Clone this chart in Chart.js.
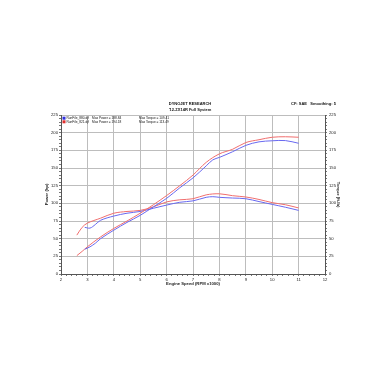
<!DOCTYPE html>
<html>
<head>
<meta charset="utf-8">
<script src="https://cdn.jsdelivr.net/npm/chart.js@4.4.1/dist/chart.umd.min.js"></script>
<style>
  html, body { margin: 0; padding: 0; background: #fff; }
  #wrap { width: 386px; height: 386px; }
</style>
</head>
<body>
<div id="wrap"><canvas id="dynoChart" width="386" height="386"></canvas></div>
<script>
// run 821 (red)
const redRpm = [2.6, 2.8, 3.0, 3.5, 4.0, 4.5, 5.0, 5.5, 6.0, 6.5, 7.0, 7.5, 8.0, 8.5, 9.0, 9.5, 10.0, 10.5, 11.0];
const redPower = [26, 32, 38.5, 52.5, 64.5, 75, 86, 98, 111, 125, 140, 158, 170, 176.5, 186, 190, 193.5, 194.2, 193.5];
const redTorque = [55, 66, 72, 79, 86, 88.5, 90, 95, 102, 105, 106.5, 112, 113.5, 110.8, 109, 105.5, 101, 98, 93.5];

// run 880 (blue)
const blueRpm = [2.9, 3.1, 3.3, 3.5, 4.0, 4.5, 5.0, 5.5, 6.0, 6.5, 7.0, 7.5, 7.75, 8.0, 8.5, 9.0, 9.5, 10.0, 10.5, 11.0];
const bluePower = [35, 38.5, 43.5, 50, 62, 73, 83, 95, 107, 122, 136, 153, 161.5, 165, 173, 182, 187, 188.5, 188.8, 185];
const blueTorque = [66, 65, 70, 76, 82, 86, 88.5, 93, 97.5, 101.5, 103.5, 108.5, 109.4, 108.5, 107.5, 106.5, 102.5, 98.5, 94.5, 90];

const legendRows = [
  { color: '#3030e0', file: 'RunFile_880.djf', power: 'Max Power = 188.84', torque: 'Max Torque = 109.41' },
  { color: '#e03030', file: 'RunFile_821.djf', power: 'Max Power = 194.18', torque: 'Max Torque = 113.49' }
];

const RED = 'rgb(240,110,110)';
const BLUE = 'rgb(105,105,240)';
const FONT = "'Liberation Sans', Arial, sans-serif";

function pts(xs, ys) {
  return xs.map((x, i) => ({ x: x, y: ys[i] }));
}
function isWhole(v, step) {
  const r = v / step;
  return Math.abs(r - Math.round(r)) < 1e-6;
}

Chart.defaults.font.family = FONT;
Chart.defaults.font.size = 4.2;
Chart.defaults.color = '#222';

const headerPlugin = {
  id: 'header',
  afterDraw(chart) {
    const c = chart.ctx;
    const a = chart.chartArea;
    c.save();
    c.fillStyle = '#111';
    c.textBaseline = 'middle';
    c.textAlign = 'center';
    c.font = 'bold 4px ' + FONT;
    c.fillText('DYNOJET RESEARCH', 190, 104);
    c.fillText("'12-ZX14R Full System", 190, 110);
    c.textAlign = 'left';
    c.fillText('CF: SAE   Smoothing: 5', 291, 104);

    // legend inside plot
    c.font = '3.2px ' + FONT;
    legendRows.forEach((row, i) => {
      const y = a.top + 3.2 + i * 3.6;
      c.fillStyle = row.color;
      c.fillRect(a.left + 1.5, y - 1.5, 3, 3);
      c.fillStyle = '#111';
      c.fillText(row.file, a.left + 5.5, y);
      c.fillText(row.power, a.left + 31, y);
      c.fillText(row.torque, a.left + 78, y);
    });
    c.restore();
  }
};

const ctx = document.getElementById('dynoChart').getContext('2d');
const dynoChart = new Chart(ctx, {
  type: 'line',
  data: {
    datasets: [
      { label: 'Power 880', data: pts(blueRpm, bluePower), borderColor: BLUE, yAxisID: 'y' },
      { label: 'Power 821', data: pts(redRpm, redPower), borderColor: RED, yAxisID: 'y' },
      { label: 'Torque 880', data: pts(blueRpm, blueTorque), borderColor: BLUE, yAxisID: 'y1' },
      { label: 'Torque 821', data: pts(redRpm, redTorque), borderColor: RED, yAxisID: 'y1' }
    ]
  },
  options: {
    responsive: false,
    animation: false,
    layout: { padding: { left: 44, right: 45, top: 115, bottom: 100 } },
    elements: {
      line: { borderWidth: 1, tension: 0.35, fill: false },
      point: { radius: 0 }
    },
    plugins: {
      legend: { display: false },
      tooltip: { enabled: false }
    },
    scales: {
      x: {
        type: 'linear',
        min: 2,
        max: 12,
        afterFit(s) { s.height = 12; },
        border: { color: '#555', width: 1 },
        grid: {
          color: c => isWhole(c.tick.value, 1) ? '#bdbdbd' : 'rgba(0,0,0,0)',
          tickColor: '#777',
          tickLength: 2
        },
        ticks: {
          stepSize: 0.2,
          autoSkip: false,
          maxRotation: 0,
          padding: 1,
          callback: v => isWhole(v, 1) ? Math.round(v) : ''
        },
        title: { display: true, text: 'Engine Speed (RPM x1000)', font: { size: 4.2, weight: 'bold' }, padding: 0 }
      },
      y: {
        position: 'left',
        min: 0,
        max: 225,
        afterFit(s) { s.width = 17; },
        border: { color: '#555', width: 1 },
        grid: {
          color: c => isWhole(c.tick.value, 25) ? '#bdbdbd' : 'rgba(0,0,0,0)',
          tickColor: '#777',
          tickLength: 2
        },
        ticks: {
          stepSize: 5,
          autoSkip: false,
          padding: 1,
          callback: v => isWhole(v, 25) ? v : ''
        },
        title: { display: true, text: 'Power (hp)', font: { size: 4.2, weight: 'bold' }, padding: 0 }
      },
      y1: {
        position: 'right',
        min: 0,
        max: 225,
        afterFit(s) { s.width = 16; },
        border: { color: '#555', width: 1 },
        grid: {
          drawOnChartArea: false,
          tickColor: '#777',
          tickLength: 2
        },
        ticks: {
          stepSize: 5,
          autoSkip: false,
          padding: 2,
          callback: v => isWhole(v, 25) ? v : ''
        },
        title: { display: true, text: 'Torque (ft-lb)', font: { size: 4.2, weight: 'bold' }, padding: 0 }
      }
    }
  },
  plugins: [headerPlugin]
});
</script>
</body>
</html>
